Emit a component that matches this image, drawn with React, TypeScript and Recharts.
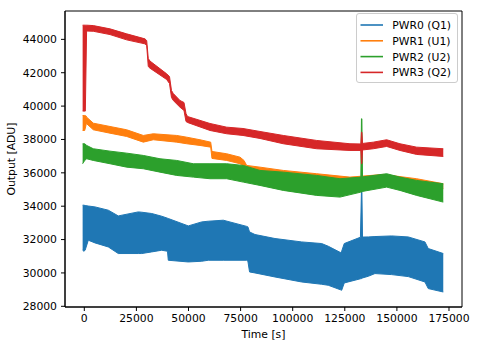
import React from 'react';
import { ComposedChart, Area, XAxis, YAxis, ReferenceArea } from 'recharts';

const SERIES_NAMES = ['PWR0 (Q1)', 'PWR1 (U1)', 'PWR2 (U2)', 'PWR3 (Q2)'];
const SERIES_COLORS = ['#1f77b4', '#ff7f0e', '#2ca02c', '#d62728'];
const X_TICKS = [0, 25000, 50000, 75000, 100000, 125000, 150000, 175000];
const Y_TICKS = [28000, 30000, 32000, 34000, 36000, 38000, 40000, 42000, 44000];
const X_DOMAIN = [-9260, 181240];
const Y_DOMAIN = [27958, 45700];

// PWR0 (Q1) band: time, upper envelope, lower envelope
const PWR0_T = [-800, -200, 400, 1920, 5130, 11520, 16310, 25910, 27540, 32340, 37140, 39920, 40300, 49900, 56330, 59500, 66690, 77920, 78500, 79300, 81900, 91500, 104310, 113900, 117070, 122920, 123500, 124750, 132500, 133000, 133200, 133500, 136260, 139470, 147490, 155450, 163460, 165050, 172250];
const PWR0_HI = [34060, 34060, 34040, 34010, 33958, 33760, 33418, 33658, 33640, 33562, 33400, 33280, 33262, 32818, 33058, 33100, 33160, 32790, 32760, 32458, 32302, 32062, 31858, 31762, 31600, 31222, 31300, 31762, 32140, 34946, 34946, 32150, 32158, 32180, 32218, 32158, 31858, 31462, 31162];
const PWR0_LO = [31360, 31300, 31360, 31960, 31800, 31558, 31162, 31162, 31162, 31260, 31360, 31300, 30760, 30658, 30700, 30760, 30760, 30760, 30700, 30058, 30000, 29758, 29458, 29320, 29260, 28990, 28960, 29400, 29650, 29660, 29660, 29700, 29800, 29962, 29900, 29780, 29458, 29062, 28858];

// PWR1 (U1)
const PWR1_T = [-800, 200, 900, 1150, 4320, 12330, 20340, 28310, 33110, 44330, 49130, 55510, 60650, 61270, 68320, 74710, 76630, 77920, 84300, 95480, 111500, 127480, 143460, 159480, 172250];
const PWR1_HI = [39437, 39437, 39400, 39335, 38976, 38778, 38581, 38240, 38341, 38240, 38138, 37982, 37838, 37281, 37143, 36940, 36742, 36443, 36341, 36144, 35946, 35743, 35904, 35647, 35347];
const PWR1_LO = [38539, 38539, 38900, 38940, 38581, 38377, 38180, 37839, 37982, 37839, 37743, 37641, 37539, 36862, 36742, 36545, 36383, 36144, 36042, 35743, 35545, 35443, 35545, 35245, 35048];

// PWR2 (U2)
const PWR2_T = [-800, 200, 1150, 4320, 12330, 20340, 28310, 36320, 44330, 52300, 60310, 68320, 76290, 84300, 95480, 111500, 122680, 132700, 133000, 133200, 133500, 145090, 151470, 159480, 172250];
const PWR2_HI = [37743, 37743, 37641, 37443, 37300, 37180, 37042, 36844, 36742, 36545, 36545, 36545, 36443, 36144, 36042, 35844, 35647, 35743, 39240, 39240, 35755, 35946, 35743, 35545, 35347];
const PWR2_LO = [36545, 36742, 36844, 36742, 36545, 36341, 36245, 36042, 35844, 35743, 35647, 35647, 35443, 35245, 34946, 34647, 34545, 34844, 34844, 34844, 34886, 35144, 34946, 34647, 34246];

// PWR3 (Q2)
const PWR3_T = [-800, 500, 1100, 4320, 12330, 20340, 29120, 29940, 30700, 31520, 39530, 40880, 41840, 42700, 45920, 47840, 48800, 49520, 60310, 68320, 76140, 84300, 95480, 111500, 127480, 132700, 133000, 133200, 133500, 138660, 145090, 151470, 159480, 172250];
const PWR3_HI = [44850, 44850, 44850, 44826, 44629, 44330, 44030, 43928, 42850, 42700, 41934, 41772, 40934, 40754, 40335, 40216, 39557, 39377, 38958, 38737, 38658, 38479, 38240, 37940, 37743, 37730, 38437, 38437, 37760, 37838, 37982, 37743, 37539, 37443];
const PWR3_LO = [39700, 39700, 44500, 44485, 44287, 43970, 43730, 43630, 42370, 42270, 41593, 41353, 40515, 40335, 39934, 39737, 39078, 39018, 38539, 38341, 38240, 38060, 37743, 37443, 37341, 37341, 36545, 36545, 37370, 37443, 37581, 37341, 37102, 36982];

const SERIES = [
  { key: 's0', t: PWR0_T, hi: PWR0_HI, lo: PWR0_LO },
  { key: 's1', t: PWR1_T, hi: PWR1_HI, lo: PWR1_LO },
  { key: 's2', t: PWR2_T, hi: PWR2_HI, lo: PWR2_LO },
  { key: 's3', t: PWR3_T, hi: PWR3_HI, lo: PWR3_LO },
];

function buildRows() {
  const map = new Map<number, any>();
  SERIES.forEach((s) => {
    s.t.forEach((t, i) => {
      let r = map.get(t);
      if (!r) {
        r = { t };
        map.set(t, r);
      }
      r[s.key] = [s.lo[i], s.hi[i]];
    });
  });
  return Array.from(map.values()).sort((a, b) => a.t - b.t);
}

const ROWS = buildRows();
const FONT = 'DejaVu Sans';
const FS = 10.8;

export default function App() {
  const tickStyle = { fontSize: FS, fill: '#000', fontFamily: FONT };
  return (
    <div style={{ position: 'absolute', left: 0, top: 0, width: 477, height: 347, background: '#fff', fontFamily: FONT }}>
      <ComposedChart width={477} height={347} data={ROWS} margin={{ top: 11, right: 15, bottom: 0, left: 0 }}>
        <XAxis
          dataKey="t"
          type="number"
          domain={X_DOMAIN}
          allowDataOverflow
          ticks={X_TICKS}
          interval={0}
          tickFormatter={(v) => String(v)}
          height={40}
          tickSize={4}
          tickMargin={3}
          tick={tickStyle}
          axisLine={{ stroke: '#000' }}
          tickLine={{ stroke: '#000' }}
          label={{
            content: () => (
              <text x={263.5} y={337.5} textAnchor="middle" fontSize={FS} fontFamily={FONT} fill="#000">
                Time [s]
              </text>
            ),
          }}
        />
        <YAxis
          type="number"
          domain={Y_DOMAIN}
          allowDataOverflow
          ticks={Y_TICKS}
          interval={0}
          tickFormatter={(v) => String(v)}
          width={65}
          tickSize={4}
          tickMargin={4}
          tick={tickStyle}
          axisLine={{ stroke: '#000' }}
          tickLine={{ stroke: '#000' }}
          label={{
            content: () => (
              <text x={15} y={159} transform="rotate(-90 15 159)" textAnchor="middle" fontSize={FS} fontFamily={FONT} fill="#000">
                Output [ADU]
              </text>
            ),
          }}
        />
        {SERIES.map((s, i) => (
          <Area
            key={s.key}
            type="linear"
            dataKey={(r: any) => (r[s.key] ? r[s.key] : [null, null])}
            name={SERIES_NAMES[i]}
            stroke={SERIES_COLORS[i]}
            strokeWidth={1}
            fill={SERIES_COLORS[i]}
            fillOpacity={1}
            connectNulls
            dot={false}
            activeDot={false}
            isAnimationActive={false}
          />
        ))}
        <ReferenceArea
          x1={X_DOMAIN[0]}
          x2={X_DOMAIN[1]}
          y1={Y_DOMAIN[0]}
          y2={Y_DOMAIN[1]}
          fill="none"
          fillOpacity={0}
          stroke="#000"
          strokeWidth={1}
          ifOverflow="visible"
        />
      </ComposedChart>
      <svg width={477} height={347} style={{ position: 'absolute', left: 0, top: 0, pointerEvents: 'none' }}>
        <rect x={356.5} y={13.5} width={101} height={69} rx={2.5} ry={2.5} fill="#fff" fillOpacity={0.8} stroke="#cccccc" strokeWidth={1} />
        {SERIES_NAMES.map((n, i) => {
          const y = 25 + i * 15.8;
          return (
            <g key={n}>
              <line x1={360.5} x2={383} y1={y} y2={y} stroke={SERIES_COLORS[i]} strokeWidth={1.6} />
              <text x={392.3} y={y + 3.95} fontSize={FS} fontFamily={FONT} fill="#000">
                {n}
              </text>
            </g>
          );
        })}
      </svg>
    </div>
  );
}
